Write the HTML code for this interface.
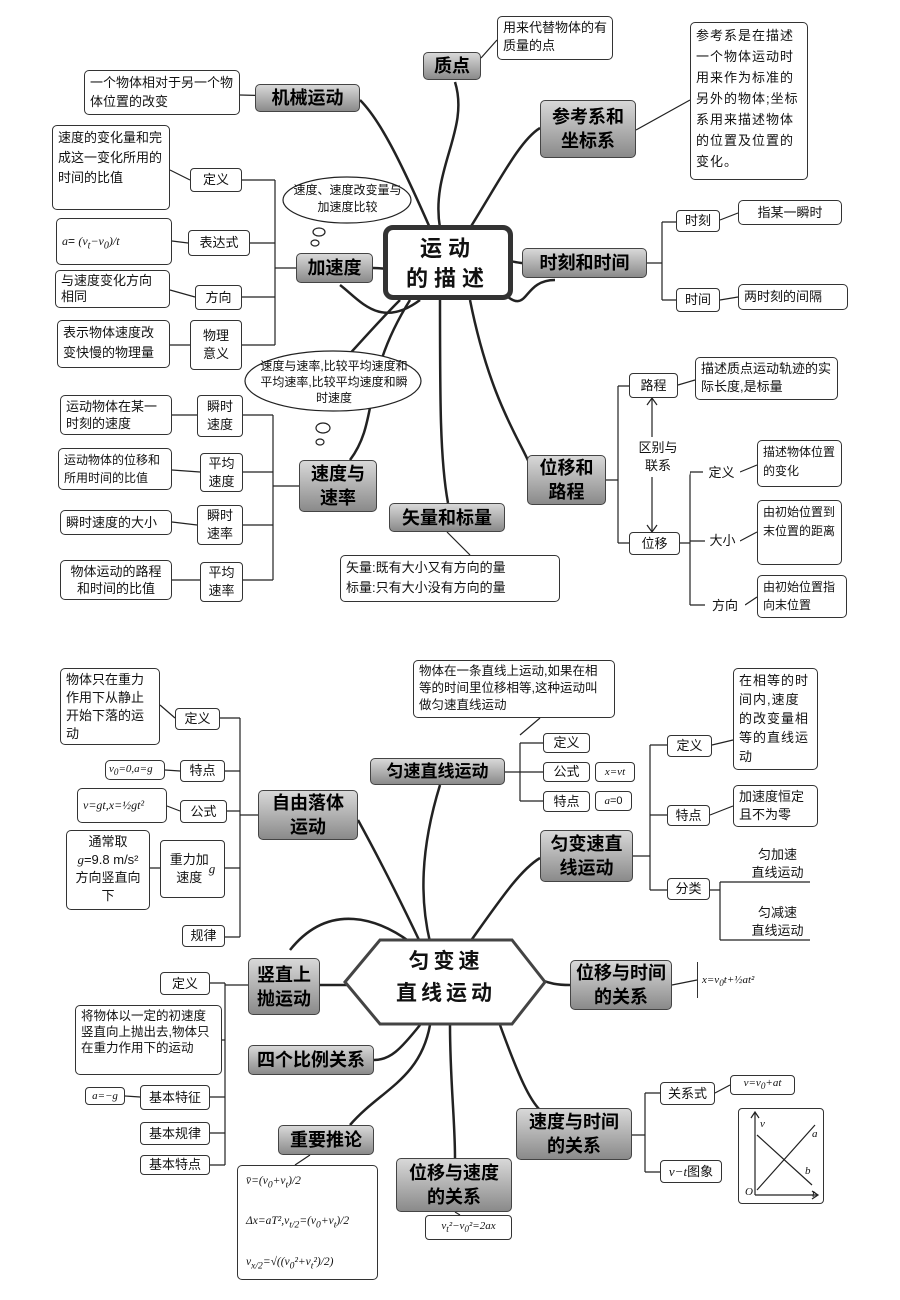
<!DOCTYPE html>
<html><head><meta charset="utf-8">
<style>
body{margin:0;background:#fff;}
#c{position:relative;width:900px;height:1300px;overflow:hidden;background:#fff;font-family:"Liberation Sans","Noto Sans CJK SC",sans-serif;color:#111;}
.a{position:absolute;box-sizing:border-box;}
.g{position:absolute;box-sizing:border-box;background:linear-gradient(#d8d8d8,#8a8a8a);border:1.5px solid #444;border-radius:5px;font-weight:bold;font-size:18px;display:flex;align-items:center;justify-content:center;text-align:center;line-height:24px;color:#000;}
.b{position:absolute;box-sizing:border-box;border:1px solid #333;border-radius:4px;font-size:13px;line-height:18px;display:flex;align-items:center;justify-content:center;text-align:center;background:#fff;}
.t{position:absolute;box-sizing:border-box;border:1px solid #333;border-radius:5px;font-size:13px;line-height:19px;padding:2px 5px;background:#fff;}
svg{position:absolute;left:0;top:0;}
i{font-family:"Liberation Serif",serif;}
</style></head><body><div id="c">
<svg width="900" height="1300" fill="none" stroke="#222">
<g stroke-width="2.5">
<path d="M440 228 C430 170 470 130 455 82"/>
<path d="M430 228 C400 160 380 120 360 100"/>
<path d="M470 228 C500 180 520 140 540 128"/>
<path d="M505 260 C515 262 520 263 522 263"/>
<path d="M395 270 C380 268 375 268 373 268"/>
<path d="M500 290 C530 320 520 280 555 280"/>
<path d="M420 300 C380 330 360 300 340 285"/>
<path d="M410 300 C360 380 380 420 350 460"/>
<path d="M440 300 C440 400 440 460 448 503"/>
<path d="M470 300 C490 400 520 440 530 465"/>
<path d="M400 300 C360 340 330 380 310 390"/>
</g>
<g stroke-width="1.2">
<path d="M360 98 L240 95"/>
<path d="M481 58 L497 40"/>
<path d="M636 130 L690 100"/>
<path d="M296 268 L275 268 M275 180 L275 345 M242 180 L275 180 M250 243 L275 243 M242 297 L275 297 M242 345 L275 345"/>
<path d="M170 170 L190 180 M172 241 L188 243 M170 290 L195 297 M170 345 L190 345"/>
<path d="M647 263 L662 263 M662 222 L662 300 M662 222 L676 222 M662 300 L676 300 M720 220 L738 213 M720 300 L738 297"/>
<path d="M299 486 L273 486 M273 415 L273 580 M243 415 L273 415 M243 472 L273 472 M243 525 L273 525 M243 580 L273 580"/>
<path d="M172 415 L197 415 M172 470 L200 472 M172 522 L197 525 M172 580 L200 580"/>
<path d="M447 532 L470 555"/>
<path d="M606 480 L618 480 M618 386 L618 543 M618 386 L629 386 M618 543 L629 543 M678 385 L695 380"/>
<path d="M652 398 L652 437 M652 477 L652 532"/>
<path d="M647 405 L652 398 L657 405 M647 525 L652 532 L657 525"/>
<path d="M680 543 L690 543 M690 472 L690 605 M690 472 L703 472 M690 541 L705 541 M690 605 L705 605 M740 472 L757 465 M740 541 L757 532 M745 605 L757 597"/>
</g>
<g stroke-width="1.2" fill="#fff">
<ellipse cx="347" cy="200" rx="64" ry="23"/>
<ellipse cx="319" cy="232" rx="6" ry="4"/><ellipse cx="315" cy="243" rx="4" ry="3"/>
<ellipse cx="333" cy="381" rx="88" ry="30"/>
<ellipse cx="323" cy="428" rx="7" ry="5"/><ellipse cx="320" cy="442" rx="4" ry="3"/>
</g>
<g stroke-width="2.5">
<path d="M420 942 C400 900 380 860 358 820"/>
<path d="M430 942 C420 900 420 850 440 785"/>
<path d="M470 942 C500 900 520 870 540 858"/>
<path d="M530 975 C550 985 560 985 570 985"/>
<path d="M360 985 C340 985 330 985 320 985"/>
<path d="M420 1025 C400 1050 390 1060 374 1060"/>
<path d="M430 1025 C420 1080 380 1090 350 1125"/>
<path d="M450 1025 C450 1080 455 1120 455 1158"/>
<path d="M500 1025 C520 1080 530 1100 540 1110"/>
<path d="M410 942 C380 920 330 900 290 950"/>
</g>
<g stroke-width="1.2">
<path d="M258 815 L240 815 M240 718 L240 937 M220 718 L240 718 M225 771 L240 771 M227 811 L240 811 M225 868 L240 868 M225 937 L240 937"/>
<path d="M160 705 L175 718 M165 770 L180 771 M167 806 L180 811 M150 868 L160 868"/>
<path d="M505 772 L520 772 M520 743 L520 801 M520 743 L543 743 M520 772 L543 772 M520 801 L543 801"/>
<path d="M540 718 L520 735"/>
<path d="M633 856 L650 856 M650 745 L650 890 M650 745 L667 745 M650 815 L667 815 M650 890 L667 890 M712 745 L733 740 M710 815 L733 806"/>
<path d="M710 890 L720 890 M720 882 L720 940 M720 882 L810 882 M720 940 L810 940"/>
<path d="M248 985 L225 985 M225 983 L225 1165 M210 983 L225 983 M210 1097 L225 1097 M210 1133 L225 1133 M210 1165 L225 1165 M125 1096 L140 1097 M222 1040 L225 1040"/>
<path d="M672 985 L697 980"/>
<path d="M632 1135 L645 1135 M645 1093 L645 1172 M645 1093 L660 1093 M645 1172 L660 1172 M715 1093 L730 1085"/>
<path d="M310 1155 L295 1165 M455 1212 L460 1215"/>
<path d="M755 1195 L755 1112 M751 1118 L755 1112 L759 1118 M755 1195 L818 1195 M812 1191 L818 1195 L812 1199 M757 1190 L815 1125 M757 1135 L812 1185"/>
</g>
<polygon points="345,982 380,940 512,940 545,982 512,1024 380,1024" stroke="#444" stroke-width="3" fill="#fff"/>
</svg>

<div class="g" style="left:423px;top:52px;width:58px;height:28px;">质点</div>
<div class="t" style="left:497px;top:16px;width:116px;height:44px;line-height:18px;">用来代替物体的有质量的点</div>
<div class="g" style="left:255px;top:84px;width:105px;height:28px;">机械运动</div>
<div class="t" style="left:84px;top:70px;width:156px;height:45px;line-height:19px;">一个物体相对于另一个物体位置的改变</div>
<div class="g" style="left:540px;top:100px;width:96px;height:58px;">参考系和<br>坐标系</div>
<div class="t" style="left:690px;top:22px;width:118px;height:158px;line-height:21px;letter-spacing:1px;">参考系是在描述一个物体运动时用来作为标准的另外的物体;坐标系用来描述物体的位置及位置的变化。</div>
<div class="a" style="left:383px;top:225px;width:130px;height:75px;border:5px solid #333;border-radius:10px;background:#fff;font-size:22px;font-weight:bold;line-height:30px;text-align:center;padding-top:4px;letter-spacing:6px;">运动<br>的描述</div>
<div class="a" style="left:290px;top:182px;width:115px;font-size:12px;line-height:17px;text-align:center;">速度、速度改变量与加速度比较</div>
<div class="g" style="left:296px;top:253px;width:77px;height:30px;">加速度</div>
<div class="t" style="left:52px;top:125px;width:118px;height:85px;line-height:20px;">速度的变化量和完成这一变化所用的时间的比值</div>
<div class="b" style="left:190px;top:168px;width:52px;height:24px;">定义</div>
<div class="t" style="left:56px;top:218px;width:116px;height:47px;font-size:12px;line-height:40px;"><i>a</i>= <i>(v<sub>t</sub>−v<sub>0</sub>)/t</i></div>
<div class="b" style="left:188px;top:230px;width:62px;height:26px;">表达式</div>
<div class="t" style="left:55px;top:270px;width:115px;height:38px;line-height:16px;">与速度变化方向相同</div>
<div class="b" style="left:195px;top:285px;width:47px;height:25px;">方向</div>
<div class="t" style="left:57px;top:320px;width:113px;height:48px;line-height:20px;">表示物体速度改变快慢的物理量</div>
<div class="b" style="left:190px;top:320px;width:52px;height:50px;">物理<br>意义</div>
<div class="g" style="left:522px;top:248px;width:125px;height:30px;">时刻和时间</div>
<div class="b" style="left:676px;top:210px;width:44px;height:22px;">时刻</div>
<div class="t" style="left:738px;top:200px;width:104px;height:25px;line-height:19px;text-align:center;">指某一瞬时</div>
<div class="b" style="left:676px;top:288px;width:44px;height:24px;">时间</div>
<div class="t" style="left:738px;top:284px;width:110px;height:26px;line-height:20px;">两时刻的间隔</div>
<div class="a" style="left:258px;top:358px;width:152px;font-size:12px;line-height:16px;text-align:center;">速度与速率,比较平均速度和平均速率,比较平均速度和瞬时速度</div>
<div class="g" style="left:299px;top:460px;width:78px;height:52px;">速度与<br>速率</div>
<div class="t" style="left:60px;top:395px;width:112px;height:40px;line-height:17px;">运动物体在某一时刻的速度</div>
<div class="b" style="left:197px;top:395px;width:46px;height:42px;">瞬时<br>速度</div>
<div class="t" style="left:58px;top:448px;width:114px;height:42px;line-height:18px;font-size:12px;">运动物体的位移和所用时间的比值</div>
<div class="b" style="left:200px;top:453px;width:43px;height:39px;">平均<br>速度</div>
<div class="t" style="left:60px;top:510px;width:112px;height:25px;line-height:19px;">瞬时速度的大小</div>
<div class="b" style="left:197px;top:505px;width:46px;height:40px;">瞬时<br>速率</div>
<div class="t" style="left:60px;top:560px;width:112px;height:40px;line-height:17px;text-align:center;">物体运动的路程和时间的比值</div>
<div class="b" style="left:200px;top:562px;width:43px;height:40px;">平均<br>速率</div>
<div class="g" style="left:389px;top:503px;width:116px;height:29px;">矢量和标量</div>
<div class="t" style="left:340px;top:555px;width:220px;height:47px;line-height:20px;">矢量:既有大小又有方向的量<br>标量:只有大小没有方向的量</div>
<div class="g" style="left:527px;top:455px;width:79px;height:50px;">位移和<br>路程</div>
<div class="b" style="left:629px;top:373px;width:49px;height:25px;">路程</div>
<div class="t" style="left:695px;top:357px;width:143px;height:43px;line-height:18px;">描述质点运动轨迹的实际长度,是标量</div>
<div class="b" style="left:626px;top:437px;width:64px;height:40px;border:none;">区别与<br>联系</div>
<div class="b" style="left:629px;top:532px;width:51px;height:23px;">位移</div>
<div class="b" style="left:703px;top:460px;width:37px;height:25px;border:none;">定义</div>
<div class="t" style="left:757px;top:440px;width:85px;height:47px;line-height:19px;font-size:12px;">描述物体位置的变化</div>
<div class="b" style="left:705px;top:530px;width:35px;height:22px;border:none;">大小</div>
<div class="t" style="left:757px;top:500px;width:85px;height:65px;line-height:19px;font-size:12px;">由初始位置到末位置的距离</div>
<div class="b" style="left:705px;top:595px;width:40px;height:22px;border:none;">方向</div>
<div class="t" style="left:757px;top:575px;width:90px;height:43px;line-height:18px;font-size:12px;">由初始位置指向末位置</div>

<div class="a" style="left:380px;top:946px;width:132px;font-size:21px;font-weight:bold;line-height:32px;text-align:center;letter-spacing:4px;">匀变速<br>直线运动</div>
<div class="g" style="left:258px;top:790px;width:100px;height:50px;">自由落体<br>运动</div>
<div class="t" style="left:60px;top:668px;width:100px;height:77px;line-height:18px;">物体只在重力作用下从静止开始下落的运动</div>
<div class="b" style="left:175px;top:708px;width:45px;height:22px;">定义</div>
<div class="t" style="left:105px;top:760px;width:60px;height:20px;font-size:11px;line-height:14px;padding:1px 3px;"><i>v<sub>0</sub>=0,a=g</i></div>
<div class="b" style="left:180px;top:760px;width:45px;height:22px;">特点</div>
<div class="t" style="left:77px;top:788px;width:90px;height:35px;font-size:12px;line-height:29px;"><i>v=gt,x=½gt²</i></div>
<div class="b" style="left:180px;top:800px;width:47px;height:23px;">公式</div>
<div class="t" style="left:66px;top:830px;width:84px;height:80px;line-height:18px;text-align:center;">通常取<br><i>g</i>=9.8 m/s²<br>方向竖直向下</div>
<div class="b" style="left:160px;top:840px;width:65px;height:58px;">重力加<br>速度<i>g</i></div>
<div class="b" style="left:182px;top:925px;width:43px;height:22px;">规律</div>
<div class="g" style="left:370px;top:758px;width:135px;height:27px;font-size:17px;">匀速直线运动</div>
<div class="t" style="left:413px;top:660px;width:202px;height:58px;line-height:17px;font-size:12.5px;">物体在一条直线上运动,如果在相等的时间里位移相等,这种运动叫做匀速直线运动</div>
<div class="b" style="left:543px;top:733px;width:47px;height:20px;">定义</div>
<div class="b" style="left:543px;top:762px;width:47px;height:20px;">公式</div>
<div class="b" style="left:595px;top:762px;width:40px;height:20px;font-size:11px;"><i>x=vt</i></div>
<div class="b" style="left:543px;top:791px;width:47px;height:21px;">特点</div>
<div class="b" style="left:595px;top:791px;width:37px;height:20px;font-size:11px;"><i>a</i>=0</div>
<div class="g" style="left:540px;top:830px;width:93px;height:52px;">匀变速直<br>线运动</div>
<div class="b" style="left:667px;top:735px;width:45px;height:22px;">定义</div>
<div class="t" style="left:733px;top:668px;width:85px;height:102px;line-height:19px;letter-spacing:1px;">在相等的时间内,速度的改变量相等的直线运动</div>
<div class="b" style="left:667px;top:805px;width:43px;height:21px;">特点</div>
<div class="t" style="left:733px;top:785px;width:85px;height:42px;line-height:18px;">加速度恒定且不为零</div>
<div class="b" style="left:667px;top:878px;width:43px;height:22px;">分类</div>
<div class="a" style="left:745px;top:846px;width:65px;font-size:13px;line-height:18px;text-align:center;">匀加速<br>直线运动</div>
<div class="a" style="left:745px;top:904px;width:65px;font-size:13px;line-height:18px;text-align:center;">匀减速<br>直线运动</div>
<div class="g" style="left:248px;top:958px;width:72px;height:57px;">竖直上<br>抛运动</div>
<div class="b" style="left:160px;top:972px;width:50px;height:23px;">定义</div>
<div class="t" style="left:75px;top:1005px;width:147px;height:70px;line-height:16px;font-size:12.5px;">将物体以一定的初速度竖直向上抛出去,物体只在重力作用下的运动</div>
<div class="b" style="left:85px;top:1087px;width:40px;height:18px;font-size:11px;"><i>a=−g</i></div>
<div class="b" style="left:140px;top:1085px;width:70px;height:25px;">基本特征</div>
<div class="b" style="left:140px;top:1122px;width:70px;height:23px;">基本规律</div>
<div class="b" style="left:140px;top:1155px;width:70px;height:20px;">基本特点</div>
<div class="g" style="left:248px;top:1045px;width:126px;height:30px;">四个比例关系</div>
<div class="g" style="left:278px;top:1125px;width:96px;height:30px;">重要推论</div>
<div class="t" style="left:237px;top:1165px;width:141px;height:115px;font-size:11.5px;line-height:18px;padding:6px 8px;"><i>v̄=(v<sub>0</sub>+v<sub>t</sub>)/2</i><br><br><i>Δx=aT²,v<sub>t/2</sub>=(v<sub>0</sub>+v<sub>t</sub>)/2</i><br><br><i>v<sub>x/2</sub>=√((v<sub>0</sub>²+v<sub>t</sub>²)/2)</i></div>
<div class="g" style="left:396px;top:1158px;width:116px;height:54px;">位移与速度<br>的关系</div>
<div class="b" style="left:425px;top:1215px;width:87px;height:25px;font-size:11px;"><i>v<sub>t</sub>²−v<sub>0</sub>²=2ax</i></div>
<div class="g" style="left:570px;top:960px;width:102px;height:50px;">位移与时间<br>的关系</div>
<div class="a" style="left:697px;top:962px;width:88px;height:36px;border-left:1px solid #333;font-size:11px;line-height:36px;padding-left:4px;"><i>x=v<sub>0</sub>t+½at²</i></div>
<div class="g" style="left:516px;top:1108px;width:116px;height:52px;">速度与时间<br>的关系</div>
<div class="b" style="left:660px;top:1082px;width:55px;height:23px;">关系式</div>
<div class="b" style="left:730px;top:1075px;width:65px;height:20px;font-size:11px;"><i>v=v<sub>0</sub>+at</i></div>
<div class="b" style="left:660px;top:1160px;width:62px;height:23px;"><i>v−t</i> 图象</div>
<div class="a" style="left:738px;top:1108px;width:86px;height:96px;border:1px solid #333;border-radius:4px;"></div>
<div class="a" style="left:760px;top:1118px;font-size:11px;"><i>v</i></div>
<div class="a" style="left:812px;top:1128px;font-size:11px;"><i>a</i></div>
<div class="a" style="left:805px;top:1165px;font-size:11px;"><i>b</i></div>
<div class="a" style="left:745px;top:1186px;font-size:11px;"><i>O</i></div>
<div class="a" style="left:812px;top:1188px;font-size:11px;"><i>t</i></div>
</div></body></html>
